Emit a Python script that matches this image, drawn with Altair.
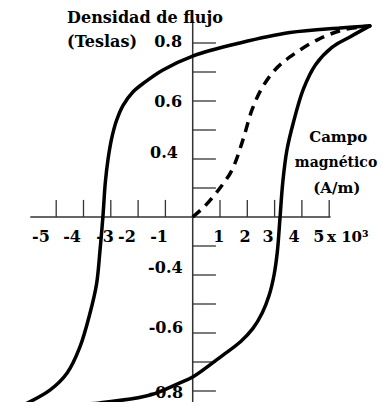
import altair as alt
import pandas as pd

# Hysteresis loop.
# x: magnetic field in 10^3 A/m; y: position in axis tick steps (one tick = 0.1 T step)
upper_x = [6.49, 5.40, 3.56, 1.73, 0.0, -1.09, -1.75, -2.19, -2.55, -2.80, -2.97, -3.10, -3.20, -3.29, -3.40, -3.52, -3.76, -4.13, -4.60, -5.23, -6.44]
upper_y = [6.59, 6.52, 6.36, 6.00, 5.55, 5.07, 4.65, 4.31, 3.85, 3.30, 2.70, 2.00, 1.20, 0.0, -1.20, -2.30, -3.31, -4.48, -5.38, -5.97, -6.59]
lower_x = [-6.44, -5.00, -3.40, -1.56, -0.47, 0.0, 1.11, 1.75, 2.20, 2.55, 2.80, 2.98, 3.10, 3.20, 3.30, 3.45, 3.70, 4.05, 4.50, 5.10, 5.76, 6.49]
lower_y = [-6.59, -6.50, -6.41, -6.14, -5.72, -5.52, -4.76, -4.30, -3.85, -3.30, -2.70, -2.00, -1.20, 0.0, 1.20, 2.30, 3.30, 4.40, 5.25, 5.85, 6.21, 6.59]
initial_x = [0.0, 0.45, 1.0, 1.44, 1.84, 2.17, 2.54, 3.01, 3.56, 4.55, 5.50, 6.49]
initial_y = [0.0, 0.38, 1.0, 1.62, 2.66, 3.69, 4.45, 5.07, 5.52, 6.10, 6.45, 6.59]

# Axes
x_ticks = [-5, -4, -3, -2, -1, 1, 2, 3, 4, 5]
x_tick_labels = ["-5", "-4", "-3", "-2", "-1", "1", "2", "3", "4", "5"]
x_label_pos = [-5.56, -4.42, -3.21, -2.41, -1.23, 0.96, 1.92, 2.76, 3.71, 4.62]
y_ticks = [-6, -5, -4, -3, -2, -1, 1, 2, 3, 4, 5, 6]
y_tick_labels = ["0.8", "0.6", "0.4", "-0.4", "-0.6", "-0.8"]
y_label_pos = [6.03, 3.97, 2.2, -1.76, -3.83, -6.07]
y_label_x = [-0.39, -0.39, -0.54, -0.37, -0.35, -0.35]

PX_PER_X = 27.3
W, H = 371, 394
XMIN = -6.7656
XMAX = XMIN + W / PX_PER_X
YMIN, YMAX = -6.3793, 7.2069

X = alt.Scale(domain=[XMIN, XMAX], nice=False, zero=False)
Y = alt.Scale(domain=[YMIN, YMAX], nice=False, zero=False)


def xq(f):
    return alt.X(f, type="quantitative", scale=X, axis=None)


def yq(f):
    return alt.Y(f, type="quantitative", scale=Y, axis=None)


loop = pd.DataFrame(
    [{"branch": "upper", "i": i, "x": a, "y": b} for i, (a, b) in enumerate(zip(upper_x, upper_y))]
    + [{"branch": "lower", "i": i, "x": a, "y": b} for i, (a, b) in enumerate(zip(lower_x, lower_y))]
)
initial = pd.DataFrame({"i": list(range(len(initial_x))), "x": initial_x, "y": initial_y})

AX = "#333333"
FONT = "DejaVu Serif"

# axis lines
xaxis = alt.Chart(pd.DataFrame({"x": [-5.95], "x2": [5.05], "y": [0.0]})).mark_rule(
    color=AX, strokeWidth=1.5
).encode(x=xq("x"), x2="x2", y=yq("y"))
yaxis = alt.Chart(pd.DataFrame({"x": [0.0], "y": [-6.5], "y2": [6.8]})).mark_rule(
    color=AX, strokeWidth=1.5
).encode(x=xq("x"), y=yq("y"), y2="y2")

xt = pd.DataFrame({"x": x_ticks, "y": [0.0] * len(x_ticks), "y2": [0.59] * len(x_ticks)})
xtick_marks = alt.Chart(xt).mark_rule(color=AX, strokeWidth=1.3).encode(
    x=xq("x"), y=yq("y"), y2="y2"
)
yt = pd.DataFrame({"y": y_ticks, "x": [0.0] * len(y_ticks), "x2": [0.85] * len(y_ticks)})
ytick_marks = alt.Chart(yt).mark_rule(color=AX, strokeWidth=1.3).encode(
    x=xq("x"), x2="x2", y=yq("y")
)

txt = dict(font=FONT, fontWeight="bold", fontSize=16, color="black", baseline="middle")
txt15 = dict(font=FONT, fontWeight="bold", fontSize=15, color="black", baseline="middle")
txt14 = dict(font=FONT, fontWeight="bold", fontSize=14, color="black", baseline="middle")

xlab = alt.Chart(
    pd.DataFrame({"x": x_label_pos, "y": [-0.69] * len(x_label_pos), "t": x_tick_labels})
).mark_text(align="center", **txt).encode(x=xq("x"), y=yq("y"), text="t:N")

ylab = alt.Chart(
    pd.DataFrame({"x": y_label_x, "y": y_label_pos, "t": y_tick_labels})
).mark_text(align="right", **txt).encode(x=xq("x"), y=yq("y"), text="t:N")

left_titles = alt.Chart(
    pd.DataFrame({"x": [-4.6, -4.6], "y": [6.85, 6.03], "t": ["Densidad de flujo", "(Teslas)"]})
).mark_text(align="left", **txt).encode(x=xq("x"), y=yq("y"), text="t:N")

right_titles = alt.Chart(
    pd.DataFrame({"x": [5.33, 5.28], "y": [2.76, 1.0], "t": ["Campo", "(A/m)"]})
).mark_text(align="center", **txt15).encode(x=xq("x"), y=yq("y"), text="t:N")
right_mid = alt.Chart(
    pd.DataFrame({"x": [5.25], "y": [1.86], "t": ["magnético"]})
).mark_text(align="center", **txt14).encode(x=xq("x"), y=yq("y"), text="t:N")

unit = alt.Chart(pd.DataFrame({"x": [4.92], "y": [-0.69], "t": ["x 10³"]})).mark_text(
    align="left", **txt15
).encode(x=xq("x"), y=yq("y"), text="t:N")

loop_line = alt.Chart(loop).mark_line(
    color="black", strokeWidth=3.5, interpolate="catmull-rom", strokeCap="round", strokeJoin="round"
).encode(x=xq("x"), y=yq("y"), detail="branch:N", order="i:Q")

init_line = alt.Chart(initial).mark_line(
    color="black", strokeWidth=3.5, interpolate="catmull-rom", strokeDash=[10, 7]
).encode(x=xq("x"), y=yq("y"), order="i:Q")

chart = alt.layer(
    xaxis, yaxis, xtick_marks, ytick_marks, xlab, ylab, left_titles, right_titles, right_mid, unit,
    init_line, loop_line,
).properties(
    width=W, height=H, padding=0, autosize=alt.AutoSizeParams(type="none"), background="white"
).configure_view(stroke=None)

chart.save("out.html", embed_options={"renderer": "svg", "actions": False})
